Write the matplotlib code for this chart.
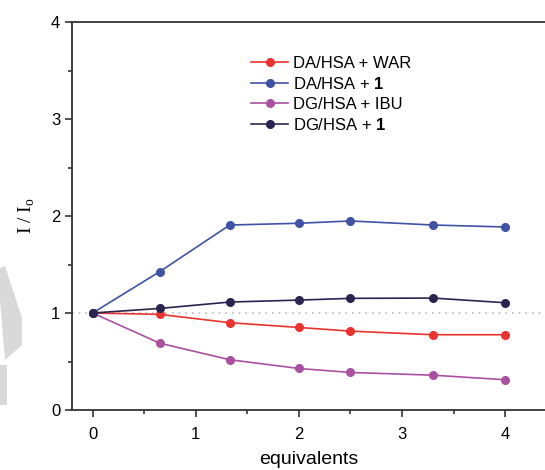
import numpy as np
import matplotlib.pyplot as plt
from matplotlib.patches import Polygon

plt.rcParams['font.family'] = ['Liberation Sans', 'DejaVu Sans']
plt.rcParams['mathtext.fontset'] = 'custom'
plt.rcParams['mathtext.rm'] = 'Liberation Sans'
plt.rcParams['mathtext.bf'] = 'Liberation Sans:bold'

# equivalents added
equiv = [0, 0.65, 1.33, 2.0, 2.5, 3.3, 4.0]

# I / Io for each titration
da_war = [1.0, 0.986, 0.90, 0.851, 0.813, 0.776, 0.776]
da_1 = [1.0, 1.426, 1.907, 1.925, 1.949, 1.907, 1.887]
dg_ibu = [1.0, 0.689, 0.518, 0.428, 0.387, 0.359, 0.312]
dg_1 = [1.0, 1.047, 1.113, 1.133, 1.151, 1.154, 1.106]

labels = ['DA/HSA + WAR', r'DA/HSA + $\mathbf{1}$', 'DG/HSA + IBU', r'DG/HSA + $\mathbf{1}$']
colors = ['#e8332f', '#3f52a4', '#a9519f', '#2a2550']
series = [da_war, da_1, dg_ibu, dg_1]

fig = plt.figure(figsize=(5.45, 4.7), dpi=100)

# faint watermark on the left edge
wm1 = Polygon([(0, 268), (5, 266), (22, 318), (22, 345), (5, 360), (0, 300)], closed=True)
wm2 = Polygon([(0, 365), (7, 365), (7, 405), (0, 405)], closed=True)
for p in (wm1, wm2):
    xy = p.get_xy()
    p.set_xy(np.column_stack([xy[:, 0] / 545, 1 - xy[:, 1] / 470]))
    p.set_transform(fig.transFigure)
    p.set_facecolor('#d9d9d9')
    p.set_edgecolor('none')
    fig.patches.append(p)

ax = fig.add_axes([72 / 545, 60 / 470, 1 - 72 / 545, 388 / 470])

ax.axhline(1, color='#bbbbbb', linestyle=(0, (1, 3)), linewidth=1.2, zorder=1)

for ys, c, lab in zip(series, colors, labels):
    ax.plot(equiv, ys, color=c, linewidth=1.2, marker='o', markersize=5.5,
            markeredgecolor=c, markerfacecolor=c, label=lab, zorder=3)

ax.set_xlim(-0.2, 4.387)
ax.set_ylim(0, 4)
ax.set_xticks([0, 1, 2, 3, 4])
ax.set_xticks([0.5, 1.5, 2.5, 3.5], minor=True)
ax.set_yticks([0, 1, 2, 3, 4])
ax.set_yticks([0.5, 1.5, 2.5, 3.5], minor=True)

ax.spines['right'].set_visible(False)
for s in ['left', 'bottom', 'top']:
    ax.spines[s].set_linewidth(1.3)
    ax.spines[s].set_color('#333333')

ax.tick_params(which='major', direction='out', length=5, width=1.2, labelsize=12, color='#333333')
ax.tick_params(which='minor', direction='out', length=3, width=1.2, color='#333333')
ax.tick_params(axis='x', pad=7)

ax.set_xlabel('equivalents', fontsize=14, labelpad=7)
ax.set_ylabel(r'I / I$_\mathregular{o}$', fontsize=14, family='Liberation Serif', labelpad=10)

ax.legend(loc='upper left', bbox_to_anchor=(243 / 545, 1 - 48 / 470),
          bbox_transform=fig.transFigure, frameon=False, fontsize=12,
          handlelength=2.2, handletextpad=0.3, labelspacing=0.3, borderpad=0)

fig.savefig('out.png', dpi=100)
